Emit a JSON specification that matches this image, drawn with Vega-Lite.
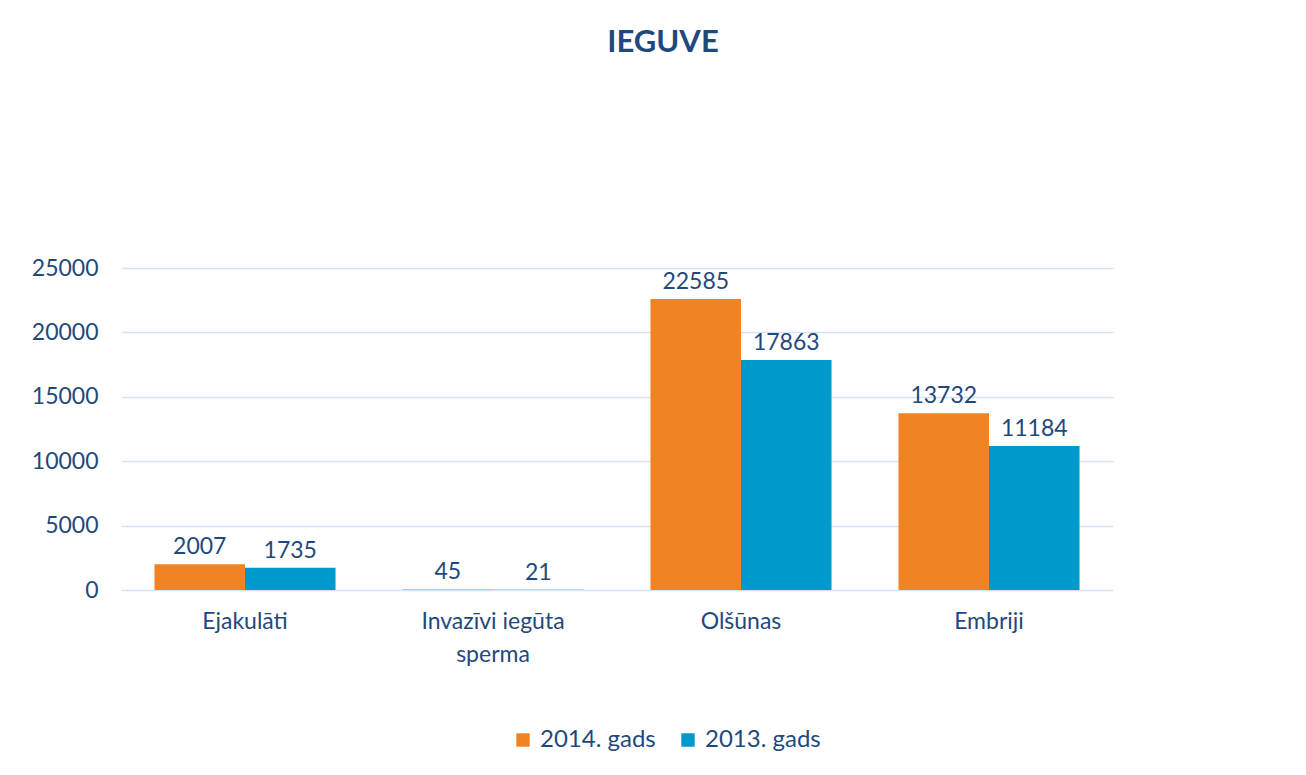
{
  "$schema": "https://vega.github.io/schema/vega-lite/v6.json",
  "width": 992,
  "height": 322,
  "autosize": {"type": "none"},
  "padding": {"left": 121, "top": 268, "right": 193, "bottom": 185},
  "background": "white",
  "config": {"font": "Lato", "view": {"stroke": null}},
  "title": {"text": "IEGUVE", "fontSize": 31, "fontWeight": "bold", "color": "#1F497D", "offset": 198, "dx": 46, "anchor": "middle", "frame": "group"},
  "data": {
    "values": [
      {"kategorija": "Ejakulāti", "gads": "2014. gads", "vertiba": 2007},
      {"kategorija": "Ejakulāti", "gads": "2013. gads", "vertiba": 1735},
      {"kategorija": "Invazīvi iegūta sperma", "gads": "2014. gads", "vertiba": 45},
      {"kategorija": "Invazīvi iegūta sperma", "gads": "2013. gads", "vertiba": 21},
      {"kategorija": "Olšūnas", "gads": "2014. gads", "vertiba": 22585},
      {"kategorija": "Olšūnas", "gads": "2013. gads", "vertiba": 17863},
      {"kategorija": "Embriji", "gads": "2014. gads", "vertiba": 13732},
      {"kategorija": "Embriji", "gads": "2013. gads", "vertiba": 11184}
    ]
  },
  "encoding": {
    "x": {
      "field": "kategorija", "type": "nominal", "sort": null,
      "scale": {"paddingInner": 0.27, "paddingOuter": 0.135},
      "axis": {
        "title": null, "domain": false, "ticks": false, "labelAngle": 0,
        "labelPadding": 20, "labelFontSize": 23, "labelColor": "#1F497D",
        "labelLineHeight": 33,
        "labelExpr": "datum.label == 'Invazīvi iegūta sperma' ? ['Invazīvi iegūta', 'sperma'] : datum.label"
      }
    },
    "xOffset": {"field": "gads", "type": "nominal", "sort": ["2014. gads", "2013. gads"]},
    "y": {
      "field": "vertiba", "type": "quantitative",
      "scale": {"domain": [0, 25000]},
      "axis": {
        "title": null, "domain": false, "ticks": false, "format": "d",
        "values": [0, 5000, 10000, 15000, 20000, 25000],
        "labelPadding": 23, "labelFontSize": 23, "labelColor": "#1F497D",
        "gridColor": "#D6E3F5", "gridWidth": 1.5
      }
    }
  },
  "layer": [
    {
      "mark": {"type": "bar"},
      "encoding": {
        "color": {
          "field": "gads", "type": "nominal",
          "scale": {"domain": ["2014. gads", "2013. gads"], "range": ["#F08424", "#0099CC"]},
          "legend": {
            "title": null, "orient": "none", "direction": "horizontal",
            "legendX": 390, "legendY": 460,
            "symbolType": "square", "symbolSize": 180, "symbolStrokeWidth": 0,
            "labelFontSize": 24, "labelColor": "#1F497D", "labelOffset": 5,
            "columnPadding": 20
          }
        }
      }
    },
    {
      "mark": {"type": "text", "dy": -17, "fontSize": 23, "color": "#1F497D"},
      "encoding": {"text": {"field": "vertiba", "type": "quantitative", "format": "d"}}
    }
  ]
}
